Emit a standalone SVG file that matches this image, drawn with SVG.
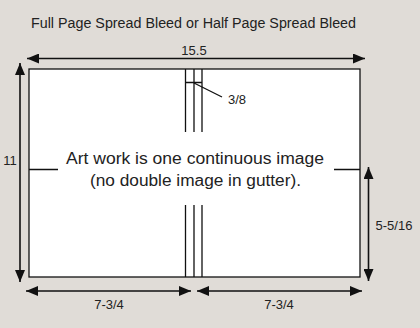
<svg xmlns="http://www.w3.org/2000/svg" width="420" height="328" viewBox="0 0 420 328">
<defs>
<marker id="ah" viewBox="0 0 12 10" refX="12" refY="5" markerWidth="12" markerHeight="10" markerUnits="userSpaceOnUse" orient="auto-start-reverse">
<path d="M0,0 L12,5 L0,10 Z" fill="#111"/>
</marker>
<style>
.t{font-family:"Liberation Sans",Arial,sans-serif;fill:#222}
.ln{stroke:#111;stroke-width:1.3;fill:none}
.dim{stroke:#111;stroke-width:1.6;fill:none}
</style>
</defs>
<rect width="420" height="328" fill="#e0dcd7"/>
<text class="t" x="31" y="28" font-size="14" textLength="325" lengthAdjust="spacingAndGlyphs">Full Page Spread Bleed or Half Page Spread Bleed</text>
<g id="page">
<rect x="29" y="69" width="331" height="208" fill="#fff" stroke="#111" stroke-width="1.3"/>
</g>
<g id="gutter">
<path class="ln" d="M185.5,69 V132 M194,69 V132 M202,69 V132 M185.5,205 V277 M194,205 V277 M202,205 V277 M185.5,82.5 H202"/>
</g>
<g id="center-text">
<text class="t" x="195" y="164" font-size="16" text-anchor="middle" textLength="258" lengthAdjust="spacingAndGlyphs">Art work is one continuous image</text>
<text class="t" x="195.5" y="186" font-size="16" text-anchor="middle" textLength="211" lengthAdjust="spacingAndGlyphs">(no double image in gutter).</text>
</g>
<g id="connectors">
<path class="ln" d="M29,169.5 H58 M334,169.5 H360 M194,83 L222,97"/>
<line class="dim" x1="27" y1="58.5" x2="365" y2="58.5" marker-start="url(#ah)" marker-end="url(#ah)"/>
<line class="dim" x1="20" y1="63" x2="20" y2="282" marker-start="url(#ah)" marker-end="url(#ah)"/>
<line class="dim" x1="368.5" y1="167" x2="368.5" y2="281" marker-start="url(#ah)" marker-end="url(#ah)"/>
<line class="dim" x1="26" y1="291" x2="191" y2="291" marker-start="url(#ah)" marker-end="url(#ah)"/>
<line class="dim" x1="197" y1="291" x2="362" y2="291" marker-start="url(#ah)" marker-end="url(#ah)"/>
</g>
<g id="labels">
<text class="t" x="194" y="55" font-size="13" text-anchor="middle">15.5</text>
<text class="t" x="228" y="104" font-size="13">3/8</text>
<text class="t" x="10" y="165" font-size="13" text-anchor="middle">11</text>
<text class="t" x="394" y="230" font-size="13" text-anchor="middle">5-5/16</text>
<text class="t" x="109" y="309" font-size="13" text-anchor="middle">7-3/4</text>
<text class="t" x="279" y="309" font-size="13" text-anchor="middle">7-3/4</text>
</g>
</svg>
